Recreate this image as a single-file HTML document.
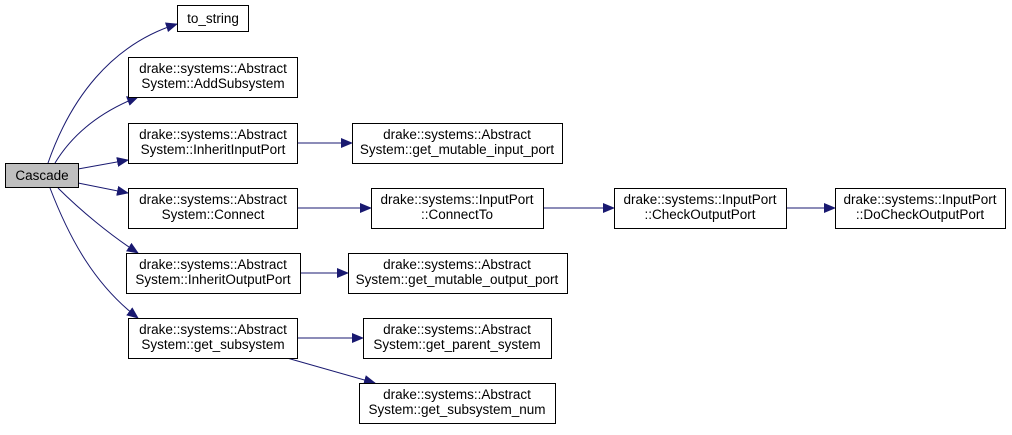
<!DOCTYPE html>
<html><head><meta charset="utf-8"><style>
body{margin:0;background:#fff}
text{font-family:"Liberation Sans",Arial,sans-serif;font-size:13.5px;fill:#000}
</style></head><body>
<svg width="1012" height="430" viewBox="0 0 1012 430" xmlns="http://www.w3.org/2000/svg">
<defs><marker id="a" markerWidth="12" markerHeight="10" refX="11" refY="5" orient="auto" markerUnits="userSpaceOnUse"><path d="M0,0 L12,5 L0,10 z" fill="#191970"/></marker></defs>
<g fill="none" stroke="#191970" stroke-width="1" marker-end="url(#a)">
<path d="M48,163 C70,100 110,45 177,24"/>
<path d="M55,163 C75,130 105,110 138,97"/>
<path d="M78,169 L128,160"/>
<path d="M78,183 L128,193"/>
<path d="M58,188 C80,210 110,235 138,253"/>
<path d="M50,188 C70,240 95,285 138,318"/>
<path d="M297,143 L352,143"/>
<path d="M297,208 L371,208"/>
<path d="M543,208 L614,208"/>
<path d="M786,208 L835,208"/>
<path d="M300,273 L348,273"/>
<path d="M297,338 L363,338"/>
<path d="M287,358 L375,383"/>
</g>
<g stroke="#000" stroke-width="1">
<rect x="5.5" y="163.5" width="73" height="24" fill="#bfbfbf"/>
<rect x="177.5" y="5.5" width="71" height="26" fill="#fff"/>
<rect x="128.5" y="57.5" width="169" height="40" fill="#fff"/>
<rect x="128.5" y="123.5" width="169" height="40" fill="#fff"/>
<rect x="128.5" y="188.5" width="169" height="40" fill="#fff"/>
<rect x="126.5" y="253.5" width="174" height="40" fill="#fff"/>
<rect x="128.5" y="318.5" width="169" height="40" fill="#fff"/>
<rect x="352.5" y="123.5" width="210" height="40" fill="#fff"/>
<rect x="371.5" y="188.5" width="172" height="40" fill="#fff"/>
<rect x="614.5" y="188.5" width="172" height="40" fill="#fff"/>
<rect x="835.5" y="188.5" width="170" height="40" fill="#fff"/>
<rect x="348.5" y="253.5" width="219" height="40" fill="#fff"/>
<rect x="363.5" y="318.5" width="188" height="40" fill="#fff"/>
<rect x="359.5" y="383.5" width="196" height="40" fill="#fff"/>
</g>
<g text-anchor="middle">
<text x="42" y="180">Cascade</text>
<text x="213" y="23">to_string</text>
<text x="213" y="73">drake::systems::Abstract</text><text x="213" y="88">System::AddSubsystem</text>
<text x="213" y="139">drake::systems::Abstract</text><text x="213" y="154">System::InheritInputPort</text>
<text x="213" y="204">drake::systems::Abstract</text><text x="213" y="219">System::Connect</text>
<text x="213" y="269">drake::systems::Abstract</text><text x="213" y="284">System::InheritOutputPort</text>
<text x="213" y="334">drake::systems::Abstract</text><text x="213" y="349">System::get_subsystem</text>
<text x="457" y="139">drake::systems::Abstract</text><text x="457" y="154">System::get_mutable_input_port</text>
<text x="457" y="204">drake::systems::InputPort</text><text x="457" y="219">::ConnectTo</text>
<text x="700" y="204">drake::systems::InputPort</text><text x="700" y="219">::CheckOutputPort</text>
<text x="920" y="204">drake::systems::InputPort</text><text x="920" y="219">::DoCheckOutputPort</text>
<text x="457" y="269">drake::systems::Abstract</text><text x="457" y="284">System::get_mutable_output_port</text>
<text x="457" y="334">drake::systems::Abstract</text><text x="457" y="349">System::get_parent_system</text>
<text x="457" y="399">drake::systems::Abstract</text><text x="457" y="414">System::get_subsystem_num</text>
</g>
</svg>
</body></html>
